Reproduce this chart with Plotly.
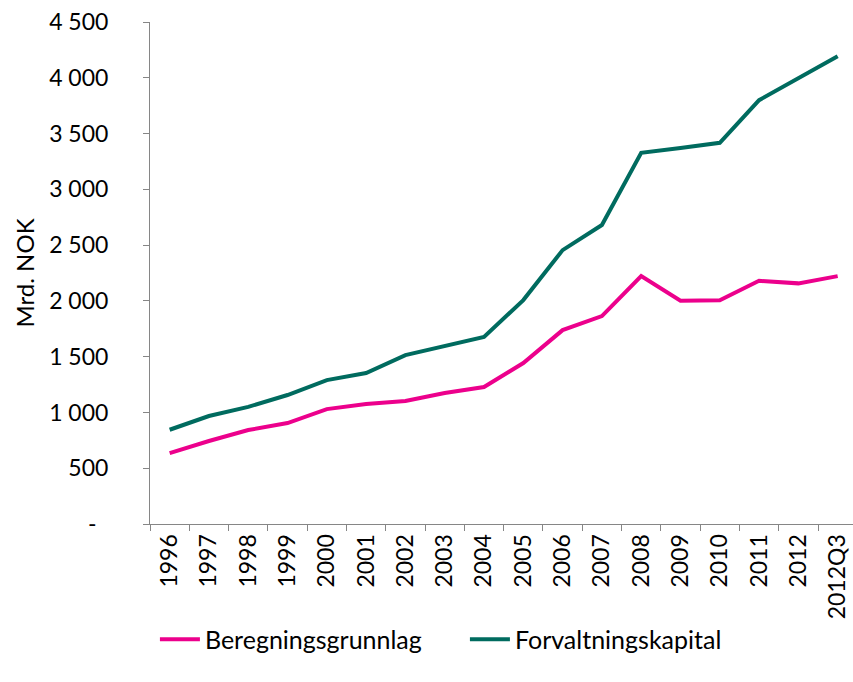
import plotly.graph_objects as go

aar = ["1996", "1997", "1998", "1999", "2000", "2001", "2002", "2003", "2004",
       "2005", "2006", "2007", "2008", "2009", "2010", "2011", "2012", "2012Q3"]
beregningsgrunnlag = [636, 744, 842, 905, 1030, 1075, 1102, 1174, 1228,
                      1443, 1738, 1864, 2222, 2001, 2005, 2180, 2157, 2222]
forvaltningskapital = [845, 968, 1050, 1156, 1290, 1353, 1514, 1595, 1676,
                       2007, 2455, 2680, 3327, 3370, 3417, 3799, 3997, 4194]
y_ticks = [0, 500, 1000, 1500, 2000, 2500, 3000, 3500, 4000, 4500]
y_labels = ["-\u00a0\u00a0", "500", "1 000", "1 500", "2 000", "2 500", "3 000", "3 500", "4 000", "4 500"]

font = "Lato, 'Open Sans', sans-serif"

fig = go.Figure()
fig.add_trace(go.Scatter(x=aar, y=beregningsgrunnlag, name="Beregningsgrunnlag",
                         mode="lines", line=dict(color="#EC008C", width=4)))
fig.add_trace(go.Scatter(x=aar, y=forvaltningskapital, name="Forvaltningskapital",
                         mode="lines", line=dict(color="#006B5F", width=4)))

fig.update_layout(
    width=853, height=682,
    margin=dict(l=150, r=0, t=22, b=158, autoexpand=False),
    plot_bgcolor="white", paper_bgcolor="white",
    font=dict(family=font, size=22, color="#000000"),
    showlegend=True,
    legend=dict(orientation="h", x=0.007, xanchor="left", y=-0.23, yanchor="middle",
                font=dict(size=25), itemwidth=40, entrywidth=255, entrywidthmode="pixels",
                tracegroupgap=0),
    xaxis=dict(type="category", range=[-0.5, 17.39], showline=True, linecolor="#868686",
               linewidth=1, ticks="outside", tickson="boundaries", ticklen=6,
               tickcolor="#868686", tickangle=-90, showgrid=False, automargin=False,
               tickfont=dict(size=23)),
    yaxis=dict(range=[0, 4500], tickvals=y_ticks, ticktext=y_labels, showline=True,
               linecolor="#868686", linewidth=1, ticks="outside", ticklen=6,
               tickcolor="#868686", showgrid=False, zeroline=False, automargin=False,
               ticklabelstandoff=30, tickfont=dict(size=23),
               title=dict(text="Mrd. NOK", font=dict(size=24), standoff=7)),
)

# fjern standardmargen rundt body i nettleseren
fig.write_html("out.html", config={"displayModeBar": False},
               post_script="document.body.style.margin='0';")
